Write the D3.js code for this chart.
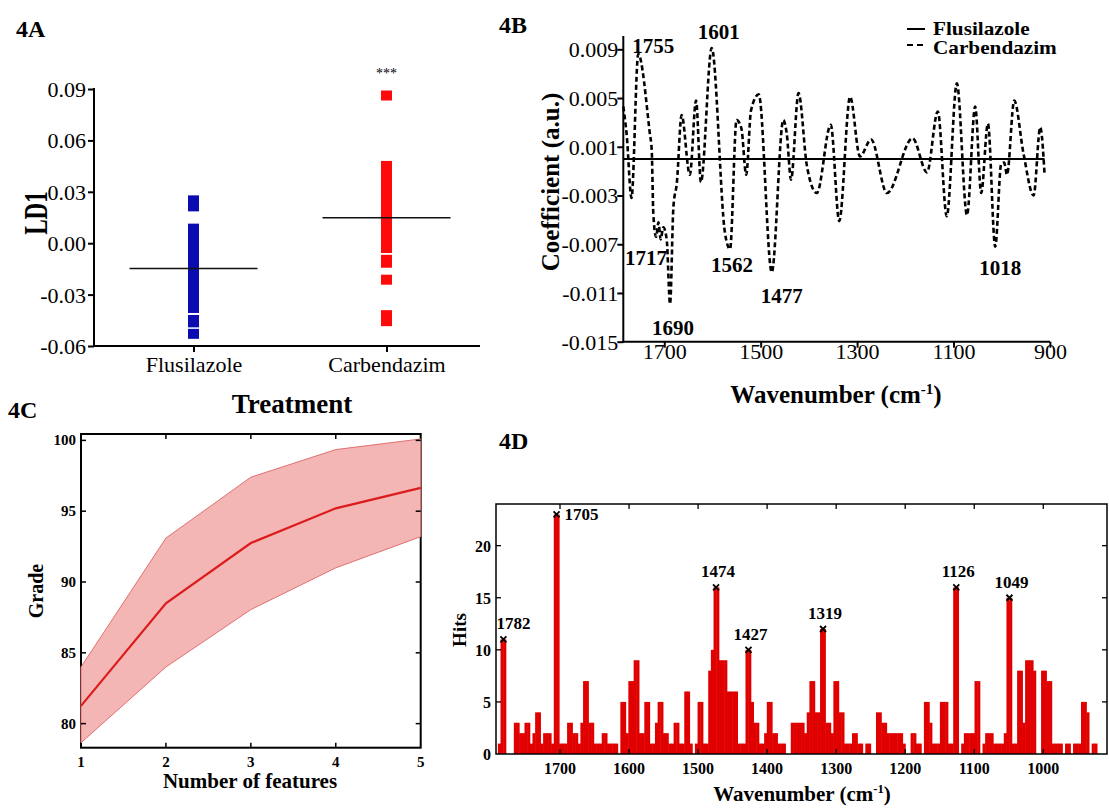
<!DOCTYPE html>
<html>
<head>
<meta charset="utf-8">
<script src="https://cdn.jsdelivr.net/npm/d3@7"></script>
<style>
  html, body { margin: 0; padding: 0; background: #fff; }
  svg text { font-family: "Liberation Serif", "Times New Roman", serif; fill: #000; }
</style>
</head>
<body>
<svg id="fig" width="1109" height="809"></svg>
<script>
// ---------- 4A: LD1 scores per treatment ----------
const treatments = ["Flusilazole", "Carbendazim"];
const ld1Flusilazole = [0.0250, 0.0215, 0.0085, 0.0052, 0.0031, -0.0004, -0.0047, -0.0071,
  -0.0109, -0.0152, -0.0183, -0.0221, -0.0259, -0.0288, -0.0330, -0.0378, -0.0448, -0.0462, -0.0529];
const ld1Carbendazim = [0.0862, 0.0451, 0.0412, 0.0383, 0.0340, 0.0301, 0.0265, 0.0228, 0.0187,
  0.0150, 0.0118, 0.0079, 0.0041, 0.0008, -0.0028, -0.0097, -0.0114, -0.0213, -0.0420, -0.0455];
const ld1Means = [-0.0148, 0.0149];
const ld1Ticks = [-0.06, -0.03, 0, 0.03, 0.06, 0.09];

// ---------- 4B: LDA coefficients over the spectrum ----------
const coefWavenumber = [1785, 1778, 1768, 1754, 1730, 1726, 1722.7, 1717, 1712, 1707.5, 1702, 1695,
  1688, 1681, 1674, 1664, 1647, 1634, 1624, 1601.6, 1574, 1563.6, 1550, 1540, 1530, 1520, 1504,
  1477, 1453, 1446, 1437, 1421.5, 1404, 1383.5, 1354.6, 1337, 1314.5, 1294, 1271, 1238, 1185,
  1155, 1132.5, 1114, 1093, 1072, 1055, 1042.5, 1028.6, 1013.4, 1001, 995, 989, 974, 955,
  933.8, 920, 911];
const coefCarbendazim = [0.0043, 0.0020, -0.0032, 0.0086, 0.0021, 0.0007, -0.0045, -0.0064, -0.0052,
  -0.0066, -0.0056, -0.0066, -0.0119, -0.0039, -0.0020, 0.0036, -0.0013, 0.0048, -0.0019, 0.0091,
  -0.0061, -0.0074, 0.0032, 0.0025, -0.0013, 0.0040, 0.0053, -0.0093, 0.0032, 0.0021, -0.0017,
  0.0054, -0.0006, -0.0028, 0.0028, -0.0051, 0.0051, 0.0002, 0.0016, -0.0028, 0.0017, -0.0011,
  0.0039, -0.0047, 0.0062, -0.0046, 0.0043, -0.0028, 0.0029, -0.0072, -0.0004, -0.0003, -0.0013,
  0.0048, 0.0005, -0.0030, 0.0026, -0.0013];
const coefFlusWavenumber = [1785, 911];
const coefFlusilazole = [0, 0];
const coefTicksY = [0.009, 0.005, 0.001, -0.003, -0.007, -0.011, -0.015];
const coefTicksX = [1700, 1500, 1300, 1100, 900];
const coefPeakLabels = ["1755", "1601", "1717", "1690", "1562", "1477", "1018"];
const coefPeakWavenumber = [1754, 1601.6, 1717, 1688, 1563.6, 1477, 1013.4];
const coefPeakValue = [0.0086, 0.0091, -0.0064, -0.0119, -0.0074, -0.0093, -0.0072];

// ---------- 4C: grade vs number of features ----------
const nFeatures = [1, 2, 3, 4, 5];
const gradeMean = [81.25, 88.5, 92.75, 95.2, 96.65];
const gradeUpper = [84.0, 93.1, 97.4, 99.35, 100.1];
const gradeLower = [78.65, 84.0, 88.05, 91.0, 93.2];
const gradeTicks = [80, 85, 90, 95, 100];

// ---------- 4D: feature selection hits per wavenumber ----------
const hitsStart = 1787.8;   // centre of the first bin (cm-1)
const hitsStep = 3.857;     // bin spacing (cm-1)
const hits = [
  1, 11, 11, 0, 0, 0, 3, 3, 2, 2, 3, 3, 1, 2, 4, 4, 1, 2, 2, 2,
  1, 23, 23, 1, 1, 1, 3, 3, 2, 2, 1, 3, 7, 7, 3, 3, 1, 1, 1, 2,
  2, 1, 1, 1, 1, 0, 5, 5, 2, 7, 7, 9, 9, 2, 2, 5, 5, 1, 1, 3,
  5, 5, 2, 2, 1, 1, 3, 3, 1, 1, 6, 6, 1, 0, 1, 5, 5, 1, 1, 8,
  10, 16, 16, 9, 9, 9, 6, 6, 6, 6, 1, 1, 1, 10, 10, 5, 3, 3, 1, 1,
  2, 5, 5, 2, 2, 1, 1, 1, 0, 0, 3, 3, 3, 3, 3, 2, 4, 7, 7, 4,
  4, 12, 12, 3, 3, 2, 7, 7, 4, 4, 1, 1, 1, 2, 2, 1, 1, 0, 1, 1,
  0, 0, 4, 4, 3, 3, 2, 2, 2, 2, 2, 2, 1, 0, 0, 2, 2, 1, 1, 0,
  5, 5, 3, 1, 1, 1, 5, 5, 5, 1, 1, 16, 16, 0, 1, 2, 2, 2, 2, 7,
  7, 0, 1, 2, 2, 2, 1, 1, 1, 1, 2, 15, 15, 1, 1, 8, 8, 3, 9, 9,
  9, 8, 0, 0, 8, 8, 7, 7, 1, 1, 1, 1, 0, 1, 1, 0, 1, 1, 1, 5,
  5, 4, 0, 1, 1];
const hitsPeakWavenumber = [1782, 1705, 1474, 1427, 1319, 1126, 1049];
const hitsPeakValue = [11, 23, 16, 10, 12, 16, 15];
const hitsTicksX = [1700, 1600, 1500, 1400, 1300, 1200, 1100, 1000];
const hitsTicksY = [0, 5, 10, 15, 20];

const svg = d3.select("#fig");

// text helper; sx widens (or narrows) glyphs along the reading direction
function txt(g, x, y, s, size, opts = {}) {
  const sx = opts.sx || 1;
  const t = g.append("text")
    .attr("x", 0).attr("y", 0)
    .attr("font-size", size)
    .attr("font-weight", opts.bold ? "bold" : "normal")
    .attr("text-anchor", opts.anchor || "start")
    .text(s);
  const rot = opts.rotate ? " rotate(-90)" : "";
  t.attr("transform", `translate(${x},${y})${rot} scale(${sx},1)`);
  return t;
}

function wavenumberTitle(g, x, y, size) {
  const t = g.append("text").attr("x", x).attr("y", y)
    .attr("font-size", size).attr("font-weight", "bold").attr("text-anchor", "middle");
  t.append("tspan").text("Wavenumber (cm");
  t.append("tspan").attr("dy", -size * 0.38).attr("font-size", size * 0.6).text("-1");
  t.append("tspan").attr("dy", size * 0.38).text(")");
}

// ---------------- Panel 4A ----------------
{
  const g = svg.append("g");
  const y = d3.scaleLinear().domain([-0.06, 0.09]).range([346, 89]);
  const x = d3.scalePoint().domain(treatments).range([97, 483]).padding(0.5);

  txt(g, 16, 37, "4A", 24, { bold: true });

  const yAxis = g.append("g").attr("transform", "translate(94,0)")
    .call(d3.axisLeft(y).tickValues(ld1Ticks).tickSize(6).tickSizeOuter(0)
      .tickFormat(d => d.toFixed(2)));
  yAxis.select(".domain").remove();
  yAxis.selectAll(".tick line").attr("stroke", "#000").attr("stroke-width", 2);
  yAxis.selectAll(".tick text").attr("font-size", 22).attr("font-family", "Liberation Serif")
    .attr("x", -8).attr("dy", "0.34em").attr("fill", "#000");
  g.append("line").attr("x1", 94).attr("x2", 94).attr("y1", 347).attr("y2", 88)
    .attr("stroke", "#000").attr("stroke-width", 2);

  const xAxis = g.append("g").attr("transform", "translate(0,346)")
    .call(d3.axisBottom(x).tickSize(6).tickSizeOuter(0));
  xAxis.select(".domain").remove();
  xAxis.selectAll(".tick line").attr("stroke", "#000").attr("stroke-width", 2);
  xAxis.selectAll(".tick text").attr("font-size", 22).attr("font-family", "Liberation Serif")
    .attr("y", 0).attr("dy", 26).attr("fill", "#000");
  g.append("line").attr("x1", 93).attr("x2", 480).attr("y1", 346).attr("y2", 346)
    .attr("stroke", "#000").attr("stroke-width", 2);

  const sq = { w: 11, h: 10 };
  const groups = [
    { name: treatments[0], vals: ld1Flusilazole, color: "#0b0bb0" },
    { name: treatments[1], vals: ld1Carbendazim, color: "#ff0a0a" }
  ];
  groups.forEach(gr => {
    g.selectAll(null).data(gr.vals).enter().append("rect")
      .attr("x", x(gr.name) - sq.w / 2)
      .attr("y", d => y(d) - sq.h / 2)
      .attr("width", sq.w).attr("height", sq.h)
      .attr("fill", gr.color);
  });

  treatments.forEach((t, i) => {
    g.append("line")
      .attr("x1", x(t) - 64).attr("x2", x(t) + 64)
      .attr("y1", y(ld1Means[i])).attr("y2", y(ld1Means[i]))
      .attr("stroke", "#111").attr("stroke-width", 1.5);
  });

  txt(g, x(treatments[1]), 78, "***", 14, { anchor: "middle" });
  txt(g, 47, 213, "LD1", 33, { bold: true, anchor: "middle", rotate: true, sx: 0.7 });
  txt(g, 292, 413, "Treatment", 27, { bold: true, anchor: "middle" });
}

// ---------------- Panel 4B ----------------
{
  const g = svg.append("g");
  const x = d3.scaleLinear().domain([1785, 900]).range([623.3, 1049.9]);
  const y = d3.scaleLinear().domain([-0.015, 0.009]).range([341.7, 49.3]);

  txt(g, 499, 33, "4B", 24, { bold: true });

  const yAxis = g.append("g").attr("transform", "translate(623.3,0)")
    .call(d3.axisLeft(y).tickValues(coefTicksY).tickSize(6).tickSizeOuter(0)
      .tickFormat(d => d.toFixed(3)));
  yAxis.select(".domain").remove();
  yAxis.selectAll(".tick line").attr("stroke", "#000").attr("stroke-width", 2);
  yAxis.selectAll(".tick text").attr("font-size", 22).attr("font-family", "Liberation Serif")
    .attr("x", -5).attr("dy", "0.34em").attr("fill", "#000");
  g.append("line").attr("x1", 623.3).attr("x2", 623.3).attr("y1", 342.7).attr("y2", 36)
    .attr("stroke", "#000").attr("stroke-width", 2);

  const xAxis = g.append("g").attr("transform", "translate(0,341.7)")
    .call(d3.axisBottom(x).tickValues(coefTicksX).tickSize(6).tickSizeOuter(0)
      .tickFormat(d3.format("d")));
  xAxis.select(".domain").remove();
  xAxis.selectAll(".tick line").attr("stroke", "#000").attr("stroke-width", 2);
  xAxis.selectAll(".tick text").attr("font-size", 22).attr("font-family", "Liberation Serif")
    .attr("y", 0).attr("dy", 17).attr("fill", "#000");
  g.append("line").attr("x1", 622.3).attr("x2", 1050).attr("y1", 341.7).attr("y2", 341.7)
    .attr("stroke", "#000").attr("stroke-width", 2);

  const carb = coefWavenumber.map((w, i) => [w, coefCarbendazim[i]]);
  const flus = coefFlusWavenumber.map((w, i) => [w, coefFlusilazole[i]]);

  g.append("path").datum(carb)
    .attr("d", d3.line().x(d => x(d[0])).y(d => y(d[1])).curve(d3.curveMonotoneX))
    .attr("fill", "none").attr("stroke", "#000").attr("stroke-width", 2.6)
    .attr("stroke-dasharray", "5,3");
  g.append("path").datum(flus)
    .attr("d", d3.line().x(d => x(d[0])).y(d => y(d[1])))
    .attr("fill", "none").attr("stroke", "#000").attr("stroke-width", 2);

  // peak annotations, placed relative to the extreme they mark
  const peakOffset = { "1755": [15, -1], "1601": [7, -9], "1717": [-10, 28], "1690": [3, 31],
    "1562": [2, 23], "1477": [10, 31], "1018": [5, 28] };
  coefPeakLabels.forEach((lab, i) => {
    const o = peakOffset[lab];
    txt(g, x(coefPeakWavenumber[i]) + o[0], y(coefPeakValue[i]) + o[1], lab, 21,
      { bold: true, anchor: "middle" });
  });

  // legend
  g.append("line").attr("x1", 907).attr("x2", 925).attr("y1", 29).attr("y2", 29)
    .attr("stroke", "#000").attr("stroke-width", 2);
  g.append("line").attr("x1", 907).attr("x2", 925).attr("y1", 45).attr("y2", 45)
    .attr("stroke", "#000").attr("stroke-width", 2).attr("stroke-dasharray", "6,4");
  txt(g, 933, 35, "Flusilazole", 18, { bold: true, sx: 1.18 });
  txt(g, 933, 54, "Carbendazim", 18, { bold: true, sx: 1.18 });

  txt(g, 559, 182, "Coefficient (a.u.)", 25, { bold: true, anchor: "middle", rotate: true });
  wavenumberTitle(g, 836, 403, 25);
}

// ---------------- Panel 4C ----------------
{
  const g = svg.append("g");
  const x = d3.scaleLinear().domain([1, 5]).range([81, 420.7]);
  const y = d3.scaleLinear().domain([78.3, 100.45]).range([747.7, 434]);

  txt(g, 8, 418, "4C", 24, { bold: true });

  g.append("rect").attr("x", 81).attr("y", 434).attr("width", 339.7).attr("height", 313.7)
    .attr("fill", "none").attr("stroke", "#000").attr("stroke-width", 2);

  const area = d3.area()
    .x((d, i) => x(nFeatures[i]))
    .y0((d, i) => y(gradeLower[i]))
    .y1(d => y(d));
  g.append("path").datum(gradeUpper).attr("d", area)
    .attr("fill", "#f4b5b5").attr("stroke", "#e07070").attr("stroke-width", 1);
  g.append("path").datum(gradeMean)
    .attr("d", d3.line().x((d, i) => x(nFeatures[i])).y(d => y(d)))
    .attr("fill", "none").attr("stroke", "#dc1c1c").attr("stroke-width", 2.2);

  // inward ticks on all four sides
  const tk = 5;
  nFeatures.forEach(v => {
    if (v > 1 && v < 5) {
      g.append("line").attr("x1", x(v)).attr("x2", x(v)).attr("y1", 747.7).attr("y2", 747.7 - tk)
        .attr("stroke", "#000").attr("stroke-width", 1.5);
      g.append("line").attr("x1", x(v)).attr("x2", x(v)).attr("y1", 434).attr("y2", 434 + tk)
        .attr("stroke", "#000").attr("stroke-width", 1.5);
    }
    txt(g, x(v), 767, String(v), 15, { bold: true, anchor: "middle" });
  });
  gradeTicks.forEach(v => {
    g.append("line").attr("x1", 81).attr("x2", 81 + tk).attr("y1", y(v)).attr("y2", y(v))
      .attr("stroke", "#000").attr("stroke-width", 1.5);
    g.append("line").attr("x1", 420.7).attr("x2", 420.7 - tk).attr("y1", y(v)).attr("y2", y(v))
      .attr("stroke", "#000").attr("stroke-width", 1.5);
    txt(g, 76, y(v) + 5, String(v), 15, { bold: true, anchor: "end" });
  });

  txt(g, 43, 591, "Grade", 20, { bold: true, anchor: "middle", rotate: true });
  txt(g, 250, 788, "Number of features", 21, { bold: true, anchor: "middle" });
}

// ---------------- Panel 4D ----------------
{
  const g = svg.append("g");
  const x = d3.scaleLinear().domain([1792.7, 907.7]).range([496, 1107]);
  const y = d3.scaleLinear().domain([0, 24]).range([754, 504]);

  txt(g, 499, 449, "4D", 24, { bold: true });

  const bins = hits.map((h, i) => ({ wn: hitsStart - i * hitsStep, h }));
  g.selectAll(null).data(bins.filter(b => b.h > 0)).enter().append("rect")
    .attr("x", d => x(d.wn + hitsStep / 2) - 0.2)
    .attr("width", d => x(d.wn - hitsStep / 2) - x(d.wn + hitsStep / 2) + 0.5)
    .attr("y", d => y(d.h))
    .attr("height", d => y(0) - y(d.h))
    .attr("fill", "#e00000");

  g.append("rect").attr("x", 496).attr("y", 504).attr("width", 611).attr("height", 250)
    .attr("fill", "none").attr("stroke", "#000").attr("stroke-width", 1.5);

  const tk = 5;
  hitsTicksX.forEach(v => {
    g.append("line").attr("x1", x(v)).attr("x2", x(v)).attr("y1", 754).attr("y2", 754 - tk)
      .attr("stroke", "#000").attr("stroke-width", 1.3);
    g.append("line").attr("x1", x(v)).attr("x2", x(v)).attr("y1", 504).attr("y2", 504 + tk)
      .attr("stroke", "#000").attr("stroke-width", 1.3);
    txt(g, x(v), 774, String(v), 16, { bold: true, anchor: "middle" });
  });
  hitsTicksY.forEach(v => {
    if (v > 0) {
      g.append("line").attr("x1", 496).attr("x2", 496 + tk).attr("y1", y(v)).attr("y2", y(v))
        .attr("stroke", "#000").attr("stroke-width", 1.3);
      g.append("line").attr("x1", 1107).attr("x2", 1107 - tk).attr("y1", y(v)).attr("y2", y(v))
        .attr("stroke", "#000").attr("stroke-width", 1.3);
    }
    txt(g, 491, y(v) + 6, String(v), 16, { bold: true, anchor: "end" });
  });

  // peak markers and their wavenumber labels
  hitsPeakWavenumber.forEach((wn, i) => {
    const px = x(wn), py = y(hitsPeakValue[i]);
    const s = 3;
    g.append("path")
      .attr("d", `M${px - s},${py - s}L${px + s},${py + s}M${px - s},${py + s}L${px + s},${py - s}`)
      .attr("stroke", "#000").attr("stroke-width", 1.8);
    if (hitsPeakValue[i] === d3.max(hitsPeakValue)) {
      txt(g, px + 8, py + 6, String(wn), 17, { bold: true });
    } else {
      const shift = px - 18 < 496 ? 10 : 2;
      txt(g, px + shift, py - 10, String(wn), 17, { bold: true, anchor: "middle" });
    }
  });

  txt(g, 466, 630, "Hits", 19, { bold: true, anchor: "middle", rotate: true });
  wavenumberTitle(g, 802, 801, 21);
}
</script>
</body>
</html>
